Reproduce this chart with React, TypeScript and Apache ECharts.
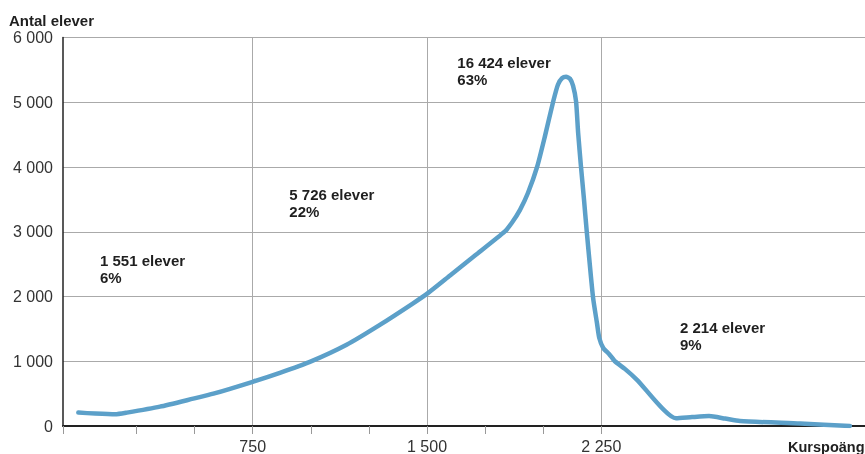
import React, { useEffect, useRef } from "react";
import * as echarts from "echarts";

// Kurspoäng (x) and Antal elever (y)
const coursePoints = [0, 72, 158, 209, 351, 494, 581, 750, 867, 996, 1154, 1297, 1440, 1505, 1599, 1706, 1835, 1865, 1900, 1934, 1974, 2007, 2043, 2063, 2081, 2098, 2115, 2128, 2141, 2150, 2162, 2175, 2187, 2214, 2231, 2241, 2258, 2283, 2308, 2351, 2402, 2571, 2640, 2713, 2782, 2846, 3105, 3319];
const students = [207, 192, 181, 207, 299, 422, 499, 683, 821, 990, 1255, 1562, 1895, 2056, 2325, 2632, 3005, 3138, 3338, 3598, 4008, 4473, 5015, 5271, 5371, 5394, 5363, 5256, 5015, 4527, 4013, 3506, 3005, 1987, 1588, 1358, 1205, 1112, 1000, 882, 718, 120, 138, 153, 115, 77, 38, 0];

// Group annotations
const groupCounts = [1551, 5726, 16424, 2214];
const groupShares = [6, 22, 63, 9];

// Axis ticks
const xTickValues = [-66, 250, 500, 750, 1000, 1250, 1500, 1750, 2000, 2250];
const xLabelValues = [750, 1500, 2250];
const yTickStep = 1000;

const FONT = '"Liberation Sans", Arial, sans-serif';
const fmt = (v: number) => String(v).replace(/\B(?=(\d{3})+(?!\d))/g, " ");

// annotation positions (pixels)
const annotPos = [
  [100, 260.3],
  [289.3, 194.3],
  [457.3, 62],
  [680, 327],
];

export default function App() {
  const ref = useRef<HTMLDivElement>(null);
  useEffect(() => {
    if (!ref.current) return;
    const chart = echarts.init(ref.current, undefined, { renderer: "svg" });
    const annotations: any[] = [];
    groupCounts.forEach((c, i) => {
      const [x, y] = annotPos[i];
      annotations.push({
        type: "text",
        x,
        y,
        style: { text: `${fmt(c)} elever`, font: `bold 15px ${FONT}`, fill: "#1f1f1f", verticalAlign: "middle" },
      });
      annotations.push({
        type: "text",
        x,
        y: y + 17.5,
        style: { text: `${groupShares[i]}%`, font: `bold 15px ${FONT}`, fill: "#1f1f1f", verticalAlign: "middle" },
      });
    });
    chart.setOption({
      animation: false,
      grid: { left: 63, top: 37.5, right: 0, bottom: 25.5 },
      xAxis: [
        {
          type: "value",
          min: -66,
          max: 3384,
          position: "bottom",
          axisLine: { show: true, onZero: false, lineStyle: { color: "#222", width: 2 } },
          axisTick: { show: true, customValues: xTickValues, length: 8, lineStyle: { color: "#999", width: 1 } },
          axisLabel: {
            show: true,
            customValues: xLabelValues,
            formatter: (v: number) => fmt(v),
            fontSize: 16,
            fontFamily: FONT,
            color: "#333",
            margin: 12,
          },
          splitLine: { show: false },
        },
        {
          type: "value",
          min: -66,
          max: 3384,
          position: "bottom",
          axisLine: { show: false },
          axisTick: { show: false, customValues: xLabelValues },
          axisLabel: { show: false },
          splitLine: { show: true, lineStyle: { color: "#aaa", width: 1 } },
        },
      ],
      yAxis: {
        type: "value",
        min: 0,
        max: 6000,
        interval: yTickStep,
        axisLine: { show: true, onZero: false, lineStyle: { color: "#222", width: 1.5 } },
        axisTick: { show: false },
        axisLabel: { formatter: (v: number) => fmt(v), fontSize: 16, fontFamily: FONT, color: "#333", margin: 10 },
        splitLine: { show: true, lineStyle: { color: "#aaa", width: 1 } },
      },
      series: [
        {
          type: "line",
          xAxisIndex: 0,
          data: coursePoints.map((x, i) => [x, students[i]]),
          showSymbol: false,
          smooth: 0.2,
          lineStyle: { color: "#5ca0c9", width: 4.5, cap: "round", join: "round" },
          itemStyle: { color: "#5ca0c9" },
          z: 3,
        },
      ],
      graphic: [
        {
          type: "text",
          x: 9,
          y: 20,
          style: { text: "Antal elever", font: `bold 15px ${FONT}`, fill: "#1f1f1f", verticalAlign: "middle" },
        },
        {
          type: "text",
          x: 788,
          y: 446.5,
          style: { text: "Kurspoäng", font: `bold 14.5px ${FONT}`, fill: "#1f1f1f", verticalAlign: "middle" },
        },
        ...annotations,
      ],
    });
    return () => chart.dispose();
  }, []);
  return <div ref={ref} style={{ position: "fixed", left: 0, top: 0, width: 865, height: 454 }} />;
}
